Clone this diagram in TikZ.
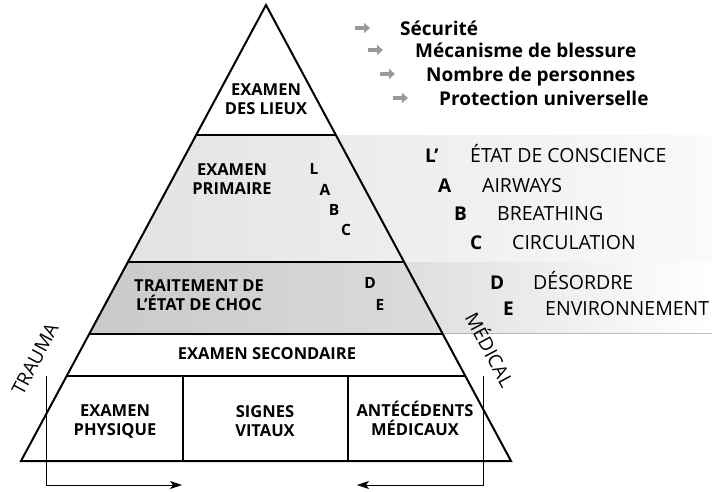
\documentclass[tikz,border=0pt]{standalone}
\usepackage{fontspec}
\setmainfont{Open Sans}
\usetikzlibrary{arrows.meta, positioning}
\tikzset{
	borde/.style={line width=2pt}, % Lineas de la piramide
	etiqueta/.style={font=\fontsize{16.5}{19}\selectfont\bfseries, align=center, inner sep=0pt}, % Textos dentro de la piramide
	letra/.style={font=\fontsize{15.5}{15.5}\selectfont\bfseries, inner sep=0pt}, % Letras L A B C D E
	punta/.style={draw=black!40, line width=3.5pt, -{Triangle[length=6pt, width=10pt]}}, % Flechas grises
	titulo/.style={font=\fontsize{19}{19}\selectfont\bfseries, anchor=base west, inner sep=0pt}, % Lista de arriba
	clave/.style={font=\fontsize{19}{19}\selectfont\bfseries, anchor=base west, inner sep=0pt}, % Letra de la lista
	lista/.style={font=\fontsize{19.5}{19.5}\selectfont, anchor=base west, inner sep=0pt}, % Texto de la lista
	lado/.style={font=\fontsize{19}{19}\selectfont, inner sep=0pt}, % Trauma y medical
	fleche/.style={line width=1pt, -{Stealth[length=12pt, width=8pt, inset=3pt]}} % Flechas de abajo
}

\begin{document}
\begin{tikzpicture}[x=1pt, y=-1pt]
	\useasboundingbox (0,0) rectangle (712,491);
	% bandas grises
	\fill[left color=black!11, right color=black!2] (196.2,135) -- (712,135) -- (712,262) -- (127.9,262) -- cycle;
	\fill[left color=black!13, right color=white] (404.1,262) -- (712,262) -- (712,333.5) -- (442.5,333.5) -- cycle;
	\fill[left color=black!21, right color=black!14] (127.9,262) -- (404.1,262) -- (442.5,333.5) -- (89.5,333.5) -- cycle;
	% piramide
	\draw[borde] (266,5) -- (511,461) -- (21,461) -- cycle;
	\draw[borde] (196.2,135) -- (335.8,135)
		(127.9,262) -- (404.1,262)
		(89.5,333.5) -- (442.5,333.5)
		(66.7,376) -- (465.3,376)
		(183,376) -- (183,461)
		(348,376) -- (348,461);

	\node[etiqueta] (lieux) at (266,99) {EXAMEN\\DES LIEUX};
	\node[etiqueta] (primaire) at (232,179) {EXAMEN\\PRIMAIRE};
	\node[letra] (l) at (314,169) {L};
	\node[letra] (a) at (325,190) {A};
	\node[letra] (b) at (334,210) {B};
	\node[letra] (c) at (346,230) {C};
	\node[etiqueta] (choc) at (199,295) {TRAITEMENT DE\\L’ÉTAT DE CHOC};
	\node[letra] (d) at (370,283) {D};
	\node[letra] (e) at (380,305) {E};
	\node[etiqueta] (secondaire) at (267,354) {EXAMEN SECONDAIRE};
	\node[etiqueta] (physique) at (115,421) {EXAMEN\\PHYSIQUE};
	\node[etiqueta] (vitaux) at (265,421) {SIGNES\\VITAUX};
	\node[etiqueta] (antecedents) at (415,418) {ANTÉCÉDENTS\\MÉDICAUX};

	\node[lado, rotate=62] (trauma) at (35,359) {TRAUMA};
	\node[lado, rotate=-62] (medical) at (491,349) {MÉDICAL};

	% examen des lieux
	\coordinate (f1) at (355,28);
	\coordinate (f2) at (368,50);
	\coordinate (f3) at (380,74);
	\coordinate (f4) at (393,98);
	\draw[punta] (f1) -- ++(15,0);
	\draw[punta] (f2) -- ++(15,0);
	\draw[punta] (f3) -- ++(15,0);
	\draw[punta] (f4) -- ++(15,0);
	\node[titulo] (securite) at (400,35) {Sécurité};
	\node[titulo] (mecanisme) at (415,57) {Mécanisme de blessure};
	\node[titulo] (nombre) at (426,81.5) {Nombre de personnes};
	\node[titulo] (protection) at (439,105) {Protection universelle};

	% examen primaire
	\node[clave] (lp) at (425,162) {L’};
	\node[lista] (conscience) at (470,162) {ÉTAT DE CONSCIENCE};
	\node[clave] (la) at (438,192) {A};
	\node[lista] (airways) at (482,192) {AIRWAYS};
	\node[clave] (lb) at (454,220) {B};
	\node[lista] (breathing) at (497,220) {BREATHING};
	\node[clave] (lc) at (470,249) {C};
	\node[lista] (circulation) at (512,249) {CIRCULATION};
	\node[clave] (ld) at (490,289) {D};
	\node[lista] (desordre) at (533,289) {DÉSORDRE};
	\node[clave] (le) at (503,315) {E};
	\node[lista] (environnement) at (545,315) {ENVIRONNEMENT};

	% trauma et medical
	\coordinate (t0) at (46,376);
	\coordinate (t1) at (182,485);
	\coordinate (m0) at (483,376);
	\coordinate (m1) at (357,485);
	\draw[fleche] (t0) |- (t1);
	\draw[fleche] (m0) |- (m1);
\end{tikzpicture}
\end{document}
